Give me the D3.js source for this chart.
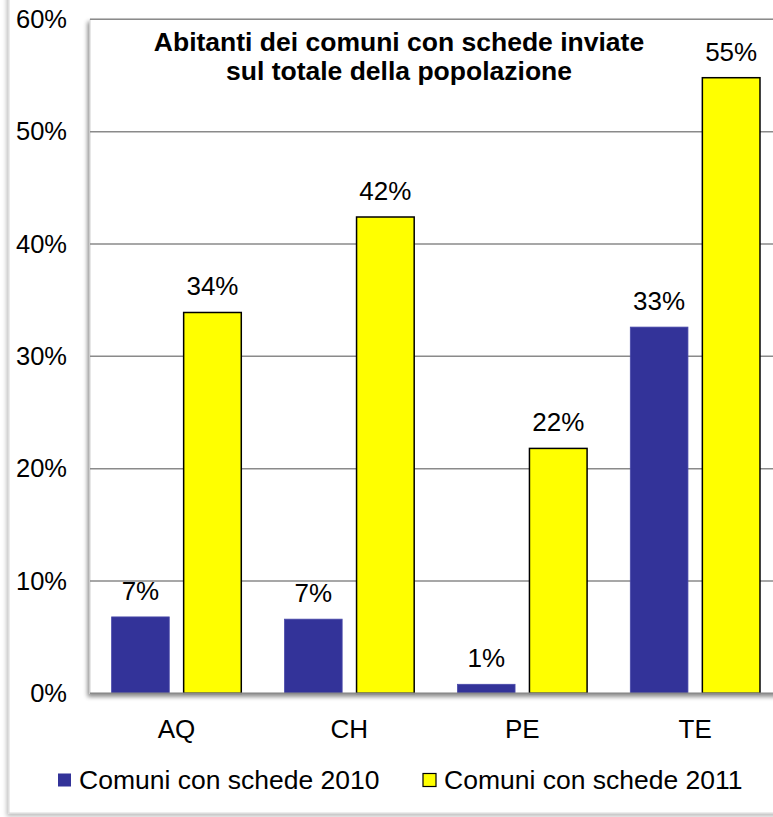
<!DOCTYPE html>
<html>
<head>
<meta charset="utf-8">
<script src="https://cdn.jsdelivr.net/npm/d3@7/dist/d3.min.js"></script>
<style>
  html, body { margin: 0; padding: 0; background: #ffffff; }
  svg { display: block; font-family: "Liberation Sans", Arial, sans-serif; }
</style>
</head>
<body>
<svg id="chart" width="773" height="817"></svg>
<script>
// ---- data ----
const categories = ["AQ", "CH", "PE", "TE"];
const seriesNames = ["Comuni con schede 2010", "Comuni con schede 2011"];
const values2010 = [6.8, 6.6, 0.8, 32.6];
const values2011 = [33.9, 42.4, 21.8, 54.8];
const yTicks = [0, 10, 20, 30, 40, 50, 60];
const titleLines = ["Abitanti dei comuni con schede inviate", "sul totale della popolazione"];
const colors = ["#333399", "#FFFF00"];

const series = [values2010, values2011];

const svg = d3.select("#chart");
const defs = svg.append("defs");
const f1 = defs.append("filter").attr("id", "shadow").attr("x", "-10%").attr("y", "-10%").attr("width", "120%").attr("height", "120%");
f1.append("feDropShadow").attr("dx", -2).attr("dy", 3).attr("stdDeviation", 2).attr("flood-color", "#000").attr("flood-opacity", 0.45);
const f2 = defs.append("filter").attr("id", "shadow2").attr("x", "-10%").attr("y", "-10%").attr("width", "120%").attr("height", "120%");
f2.append("feDropShadow").attr("dx", -2).attr("dy", 3).attr("stdDeviation", 2).attr("flood-color", "#000").attr("flood-opacity", 0.25);

// outer chart frame
svg.append("rect")
  .attr("x", 9).attr("y", -20).attr("width", 800).attr("height", 833)
  .attr("fill", "#fff").attr("stroke", "#d9d9d9").attr("stroke-width", 1)
  .attr("filter", "url(#shadow2)");

const plotLeft = 90, plotRight = 781.6, plotTop = 19.3, plotBottom = 693.3;

const x = d3.scaleBand().domain(categories).range([plotLeft, plotRight]).padding(0);
const xs = d3.scaleBand().domain(d3.range(series.length)).range([0, x.bandwidth()])
  .paddingInner(0.2).paddingOuter(0.3);
const y = d3.scaleLinear().domain([0, 60]).range([plotBottom, plotTop]);

// plot area with shadow
svg.append("rect")
  .attr("x", plotLeft).attr("y", plotTop).attr("width", plotRight - plotLeft).attr("height", plotBottom - plotTop)
  .attr("fill", "#fff").attr("stroke", "#d0d0d0").attr("stroke-width", 1)
  .attr("filter", "url(#shadow)");

// gridlines
svg.append("g").selectAll("line").data(yTicks.filter(t => t > 0)).join("line")
  .attr("x1", plotLeft).attr("x2", plotRight)
  .attr("y1", d => y(d)).attr("y2", d => y(d))
  .attr("stroke", "#8a8a8a").attr("stroke-width", 1.5);

// y-axis labels
const yAxis = d3.axisLeft(y).tickValues(yTicks).tickFormat(d => d + "%").tickSize(0).tickPadding(23);
const ya = svg.append("g").attr("transform", `translate(${plotLeft},0)`).call(yAxis);
ya.select(".domain").remove();
ya.selectAll("text").attr("font-size", 25.5).attr("fill", "#000").attr("font-family", "Liberation Sans, Arial, sans-serif");

// bars
const groups = svg.append("g").selectAll("g").data(categories).join("g")
  .attr("transform", d => `translate(${x(d)},0)`);
groups.selectAll("rect").data((d, i) => series.map((s, k) => ({k, v: s[i]}))).join("rect")
  .attr("x", d => xs(d.k))
  .attr("width", xs.bandwidth())
  .attr("y", d => y(d.v))
  .attr("height", d => y(0) - y(d.v))
  .attr("fill", d => colors[d.k])
  .attr("stroke", d => d.k === 1 ? "#000" : "#4a4aaa")
  .attr("stroke-width", d => d.k === 1 ? 1.5 : 0.8);
groups.selectAll("text").data((d, i) => series.map((s, k) => ({k, v: s[i]}))).join("text")
  .attr("x", d => xs(d.k) + xs.bandwidth() / 2)
  .attr("y", d => y(d.v) - 17)
  .attr("text-anchor", "middle")
  .attr("font-size", 26)
  .text(d => Math.round(d.v) + "%");

// x axis line
svg.append("line").attr("x1", plotLeft).attr("x2", plotRight)
  .attr("y1", plotBottom).attr("y2", plotBottom)
  .attr("stroke", "#8a8a8a").attr("stroke-width", 1.5);

// x-axis labels
const xAxis = d3.axisBottom(x).tickSize(0).tickPadding(26);
const xa = svg.append("g").attr("transform", `translate(0,${plotBottom})`).call(xAxis);
xa.select(".domain").remove();
xa.selectAll("text").attr("font-size", 26).attr("fill", "#000").attr("font-family", "Liberation Sans, Arial, sans-serif");

// title
svg.append("text").attr("text-anchor", "middle").attr("font-weight", "bold").attr("font-size", 26.5)
  .selectAll("tspan").data(titleLines).join("tspan")
  .attr("x", 399).attr("y", (d, i) => 51 + i * 29).text(d => d);

// legend
const legendX = [58, 423];
const lg = svg.append("g").selectAll("g").data(seriesNames).join("g")
  .attr("transform", (d, i) => `translate(${legendX[i]},773.5)`);
lg.append("rect").attr("width", 13).attr("height", 13)
  .attr("fill", (d, i) => colors[i])
  .attr("stroke", (d, i) => i === 1 ? "#000" : "none").attr("stroke-width", 1.2);
lg.append("text").attr("x", 21).attr("y", 15.5).attr("font-size", 26.5).text(d => d);
</script>
</body>
</html>
